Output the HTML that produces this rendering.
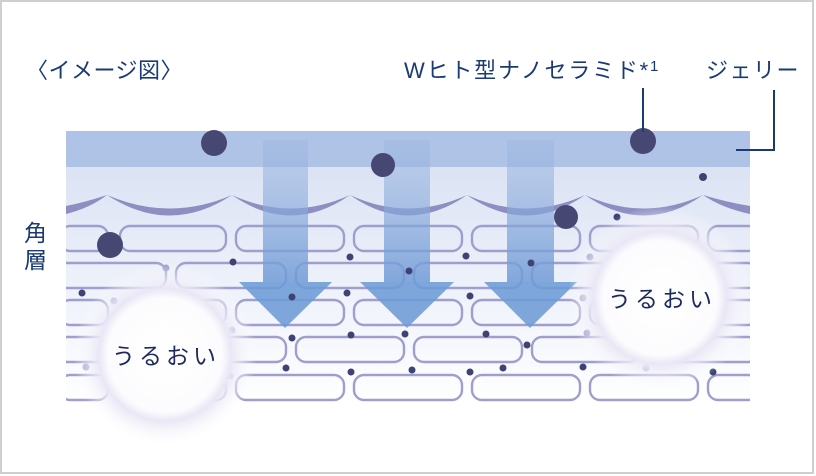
<!DOCTYPE html>
<html><head><meta charset="utf-8"><style>
body{margin:0;background:#fff;}
svg{display:block;font-family:"Liberation Sans","Noto Sans CJK JP",sans-serif;}
</style></head><body>
<svg width="816" height="476" viewBox="0 0 816 476" xmlns="http://www.w3.org/2000/svg">
<defs>
<linearGradient id="bg" x1="0" y1="0" x2="0" y2="1">
<stop offset="0" stop-color="#d5def1"/><stop offset="0.55" stop-color="#edf1fa"/><stop offset="1" stop-color="#ffffff"/>
</linearGradient>
<linearGradient id="sh" x1="0" y1="0" x2="0" y2="1">
<stop offset="0" stop-color="#9fb7e0" stop-opacity="0.45"/><stop offset="1" stop-color="#6f9ad6" stop-opacity="0.85"/>
</linearGradient>
<radialGradient id="glow">
<stop offset="0" stop-color="#fff"/><stop offset="0.62" stop-color="#fcfcfe"/><stop offset="0.72" stop-color="#e9e7f5"/><stop offset="1" stop-color="#fff" stop-opacity="0"/>
</radialGradient>
</defs>
<rect x="1" y="1" width="812" height="472" fill="#fff" stroke="#cfcfcf" stroke-width="2"/>
<rect x="66" y="131" width="684" height="274" fill="url(#bg)"/>
<rect x="66" y="131" width="684" height="36" fill="#aec3e6"/>
<!-- scallops -->
<g fill="#8e8ec2">
<path d="M66,206 Q86,202 107,195 Q90,208 66,214 Z"/>
<path d="M107,195 Q170,222 232,195 Q170,236 107,195 Z"/>
<path d="M232,195 Q291,222 350,195 Q291,236 232,195 Z"/>
<path d="M350,195 Q408,222 467,195 Q408,236 350,195 Z"/>
<path d="M467,195 Q526,222 585,195 Q526,236 467,195 Z"/>
<path d="M585,195 Q644,222 703,195 Q644,236 585,195 Z"/>
<path d="M703,195 Q726,202 750,206 L750,214 Q722,208 703,195 Z"/>
</g>
<!-- bricks -->
<g fill="none" stroke="#9f9ecd" stroke-width="2.4">
<rect x="60" y="226" width="48" height="25" rx="10"/><rect x="120" y="226" width="106" height="25" rx="10"/><rect x="236" y="226" width="108" height="25" rx="10"/><rect x="354" y="226" width="108" height="25" rx="10"/><rect x="472" y="226" width="108" height="25" rx="10"/><rect x="590" y="226" width="108" height="25" rx="10"/><rect x="708" y="226" width="50" height="25" rx="10"/>
<rect x="56" y="263" width="110" height="25" rx="10"/><rect x="176" y="263" width="110" height="25" rx="10"/><rect x="296" y="263" width="108" height="25" rx="10"/><rect x="414" y="263" width="108" height="25" rx="10"/><rect x="532" y="263" width="108" height="25" rx="10"/><rect x="650" y="263" width="108" height="25" rx="10"/>
<rect x="60" y="300" width="48" height="25" rx="10"/><rect x="120" y="300" width="106" height="25" rx="10"/><rect x="236" y="300" width="108" height="25" rx="10"/><rect x="354" y="300" width="108" height="25" rx="10"/><rect x="472" y="300" width="108" height="25" rx="10"/><rect x="590" y="300" width="108" height="25" rx="10"/><rect x="708" y="300" width="50" height="25" rx="10"/>
<rect x="56" y="337" width="110" height="25" rx="10"/><rect x="176" y="337" width="110" height="25" rx="10"/><rect x="296" y="337" width="108" height="25" rx="10"/><rect x="414" y="337" width="108" height="25" rx="10"/><rect x="532" y="337" width="108" height="25" rx="10"/><rect x="650" y="337" width="108" height="25" rx="10"/>
<rect x="60" y="375" width="48" height="25" rx="10"/><rect x="120" y="375" width="106" height="25" rx="10"/><rect x="236" y="375" width="108" height="25" rx="10"/><rect x="354" y="375" width="108" height="25" rx="10"/><rect x="472" y="375" width="108" height="25" rx="10"/><rect x="590" y="375" width="108" height="25" rx="10"/><rect x="708" y="375" width="50" height="25" rx="10"/>
</g>
<rect x="50" y="200" width="16" height="210" fill="#fff"/><rect x="750" y="200" width="16" height="210" fill="#fff"/>
<!-- arrows -->
<g>
<rect x="263" y="140" width="45" height="142" fill="url(#sh)"/><polygon points="239,282 332,282 285,328" fill="#6d9bd6" opacity="0.88"/>
<rect x="384" y="140" width="46" height="142" fill="url(#sh)"/><polygon points="360,282 454,282 407,328" fill="#6d9bd6" opacity="0.88"/>
<rect x="507" y="140" width="47" height="142" fill="url(#sh)"/><polygon points="484,282 577,282 530,328" fill="#6d9bd6" opacity="0.88"/>
</g>
<!-- small dots -->
<g fill="#3f4373">
<circle cx="233" cy="262" r="3.5"/><circle cx="350" cy="257" r="3.5"/><circle cx="82" cy="293" r="3.5"/><circle cx="292" cy="297" r="3.5"/><circle cx="347" cy="293" r="3.5"/><circle cx="409" cy="271" r="3.5"/><circle cx="466" cy="256" r="3.5"/><circle cx="531" cy="263" r="3.5"/><circle cx="470" cy="296" r="3.5"/><circle cx="292" cy="338" r="3.5"/><circle cx="351" cy="335" r="3.5"/><circle cx="405" cy="334" r="3.5"/><circle cx="486" cy="334" r="3.5"/><circle cx="527" cy="345" r="3.5"/><circle cx="286" cy="368" r="3.5"/><circle cx="351" cy="372" r="3.5"/><circle cx="412" cy="370" r="3.5"/><circle cx="470" cy="372" r="3.5"/><circle cx="503" cy="368" r="3.5"/><circle cx="583" cy="367" r="3.5"/><circle cx="703" cy="177" r="4"/><circle cx="617" cy="217" r="3.5"/><circle cx="713" cy="372" r="3.5"/>
</g>
<g fill="#9a9ac8"><circle cx="166" cy="268" r="3.5"/><circle cx="114" cy="301" r="3.5"/><circle cx="232" cy="330" r="3.5"/><circle cx="86" cy="367" r="3.5"/><circle cx="230" cy="376" r="3.5"/><circle cx="590" cy="257" r="3.5"/><circle cx="583" cy="298" r="3.5"/><circle cx="587" cy="333" r="3.5"/><circle cx="646" cy="368" r="3.5"/></g>
<!-- glows -->
<circle cx="165" cy="355" r="92" fill="url(#glow)"/>
<circle cx="660" cy="298" r="92" fill="url(#glow)"/>
<text x="166" y="364" font-size="23" fill="#1f2a5c" text-anchor="middle" letter-spacing="4">うるおい</text>
<text x="662" y="307" font-size="23" fill="#1f2a5c" text-anchor="middle" letter-spacing="4">うるおい</text>
<!-- big dots -->
<g fill="#464873">
<circle cx="214" cy="143" r="13"/><circle cx="383" cy="165" r="12"/><circle cx="643" cy="141" r="13"/><circle cx="566" cy="217" r="12"/><circle cx="110" cy="245" r="13"/>
</g>
<!-- leader lines -->
<g stroke="#1a3a75" stroke-width="2" fill="none">
<line x1="643" y1="88" x2="643" y2="132"/>
<polyline points="736,150 774,150 774,90"/>
</g>
<g fill="#1a3a75" font-size="22">
<text x="26" y="78" letter-spacing="0.5">〈イメージ図〉</text>
<text x="404" y="78" letter-spacing="1.8">Wヒト型ナノセラミド*<tspan font-size="15" dy="-7">1</tspan></text>
<text x="706" y="78" letter-spacing="1.5">ジェリー</text>
<text x="24" y="241" font-size="23">角</text>
<text x="24" y="268" font-size="23">層</text>
</g>
</svg>
</body></html>
